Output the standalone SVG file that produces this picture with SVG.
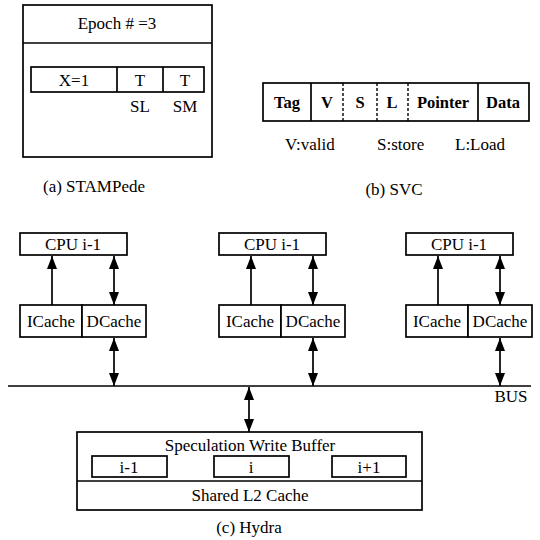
<svg xmlns="http://www.w3.org/2000/svg" width="540" height="540" viewBox="0 0 540 540">
<style>
text{font-family:"Liberation Serif","Times New Roman","DejaVu Serif",serif;fill:#000;}
.t{font-size:17px;text-anchor:middle;}
.s{font-size:17px;text-anchor:middle;}
.l{font-size:17px;text-anchor:start;}
.b{font-size:16.5px;font-weight:bold;text-anchor:middle;}
.box{fill:#fff;stroke:#000;stroke-width:1.7;}
.ln{stroke:#000;stroke-width:1.7;fill:none;}
.dash{stroke:#000;stroke-width:1.4;stroke-dasharray:3,2;fill:none;}
</style>
<defs>
<marker id="ah" viewBox="0 0 10 10" refX="10" refY="5" markerWidth="13" markerHeight="10" markerUnits="userSpaceOnUse" orient="auto-start-reverse" preserveAspectRatio="none">
<path d="M0,0 L10,5 L0,10 Z" fill="#000"/>
</marker>
</defs>
<rect width="540" height="540" fill="#fff"/>

<g id="stampede">
<rect class="box" x="23" y="5" width="189" height="152"/>
<line class="ln" x1="23" y1="43" x2="212" y2="43"/>
<text class="t" x="117" y="29">Epoch # =3</text>
<rect class="box" x="31" y="67" width="173" height="25"/>
<line class="ln" x1="117" y1="67" x2="117" y2="92"/>
<line class="ln" x1="163" y1="67" x2="163" y2="92"/>
<text class="t" x="74" y="86">X=1</text>
<text class="t" x="140" y="86">T</text>
<text class="t" x="185" y="86">T</text>
<text class="t" x="140" y="112">SL</text>
<text class="t" x="185" y="112">SM</text>
<text class="s" x="94" y="192">(a) STAMPede</text>
</g>

<g id="svc">
<rect class="box" x="263" y="83" width="266" height="38"/>
<line class="ln" x1="311" y1="83" x2="311" y2="121"/>
<line class="dash" x1="343" y1="83" x2="343" y2="121"/>
<line class="dash" x1="377" y1="83" x2="377" y2="121"/>
<line class="dash" x1="408" y1="83" x2="408" y2="121"/>
<line class="ln" x1="478" y1="83" x2="478" y2="121"/>
<text class="b" x="287" y="108">Tag</text>
<text class="b" x="327" y="108">V</text>
<text class="b" x="360" y="108">S</text>
<text class="b" x="392" y="108">L</text>
<text class="b" x="443" y="108">Pointer</text>
<text class="b" x="503" y="108">Data</text>
<text class="l" x="285" y="150">V:valid</text>
<text class="l" x="377" y="150">S:store</text>
<text class="l" x="455" y="150">L:Load</text>
<text class="s" x="394" y="195">(b) SVC</text>
</g>

<g id="cpu1">
<rect class="box" x="20" y="233" width="107" height="22"/>
<text class="s" x="73" y="250">CPU i-1</text>
</g>
<g id="cache1">
<rect class="box" x="20" y="305" width="62" height="32"/>
<rect class="box" x="82" y="305" width="64" height="32"/>
<text class="s" x="51" y="327">ICache</text>
<text class="s" x="114" y="327">DCache</text>
</g>

<g id="cpu2">
<rect class="box" x="219" y="233" width="107" height="22"/>
<text class="s" x="272" y="250">CPU i-1</text>
</g>
<g id="cache2">
<rect class="box" x="219" y="305" width="62" height="32"/>
<rect class="box" x="281" y="305" width="64" height="32"/>
<text class="s" x="250" y="327">ICache</text>
<text class="s" x="313" y="327">DCache</text>
</g>

<g id="cpu3">
<rect class="box" x="406" y="233" width="107" height="22"/>
<text class="s" x="459" y="250">CPU i-1</text>
</g>
<g id="cache3">
<rect class="box" x="406" y="305" width="62" height="32"/>
<rect class="box" x="468" y="305" width="64" height="32"/>
<text class="s" x="437" y="327">ICache</text>
<text class="s" x="500" y="327">DCache</text>
</g>

<g id="bus">
<line class="ln" x1="8" y1="386" x2="531" y2="386"/>
<text class="s" x="511" y="402">BUS</text>
</g>

<g id="l2">
<rect class="box" x="77" y="432" width="345" height="78"/>
<line class="ln" x1="77" y1="481" x2="422" y2="481"/>
<text class="t" x="250" y="451">Speculation Write Buffer</text>
<rect class="box" x="92" y="456" width="75" height="21"/>
<rect class="box" x="214" y="456" width="75" height="21"/>
<rect class="box" x="332" y="456" width="74" height="21"/>
<text class="s" x="129" y="473">i-1</text>
<text class="s" x="251" y="473">i</text>
<text class="s" x="369" y="473">i+1</text>
<text class="t" x="250" y="501">Shared L2 Cache</text>
<text class="s" x="249" y="533">(c) Hydra</text>
</g>

<g id="connectors">
<line class="ln" x1="52" y1="305" x2="52" y2="256" marker-end="url(#ah)"/>
<line class="ln" x1="114" y1="256" x2="114" y2="305" marker-start="url(#ah)" marker-end="url(#ah)"/>
<line class="ln" x1="114" y1="338" x2="114" y2="386" marker-start="url(#ah)" marker-end="url(#ah)"/>
<line class="ln" x1="251" y1="305" x2="251" y2="256" marker-end="url(#ah)"/>
<line class="ln" x1="313" y1="256" x2="313" y2="305" marker-start="url(#ah)" marker-end="url(#ah)"/>
<line class="ln" x1="313" y1="338" x2="313" y2="386" marker-start="url(#ah)" marker-end="url(#ah)"/>
<line class="ln" x1="438" y1="305" x2="438" y2="256" marker-end="url(#ah)"/>
<line class="ln" x1="500" y1="256" x2="500" y2="305" marker-start="url(#ah)" marker-end="url(#ah)"/>
<line class="ln" x1="500" y1="338" x2="500" y2="386" marker-start="url(#ah)" marker-end="url(#ah)"/>
<line class="ln" x1="249" y1="387" x2="249" y2="432" marker-start="url(#ah)" marker-end="url(#ah)"/>
</g>
</svg>
